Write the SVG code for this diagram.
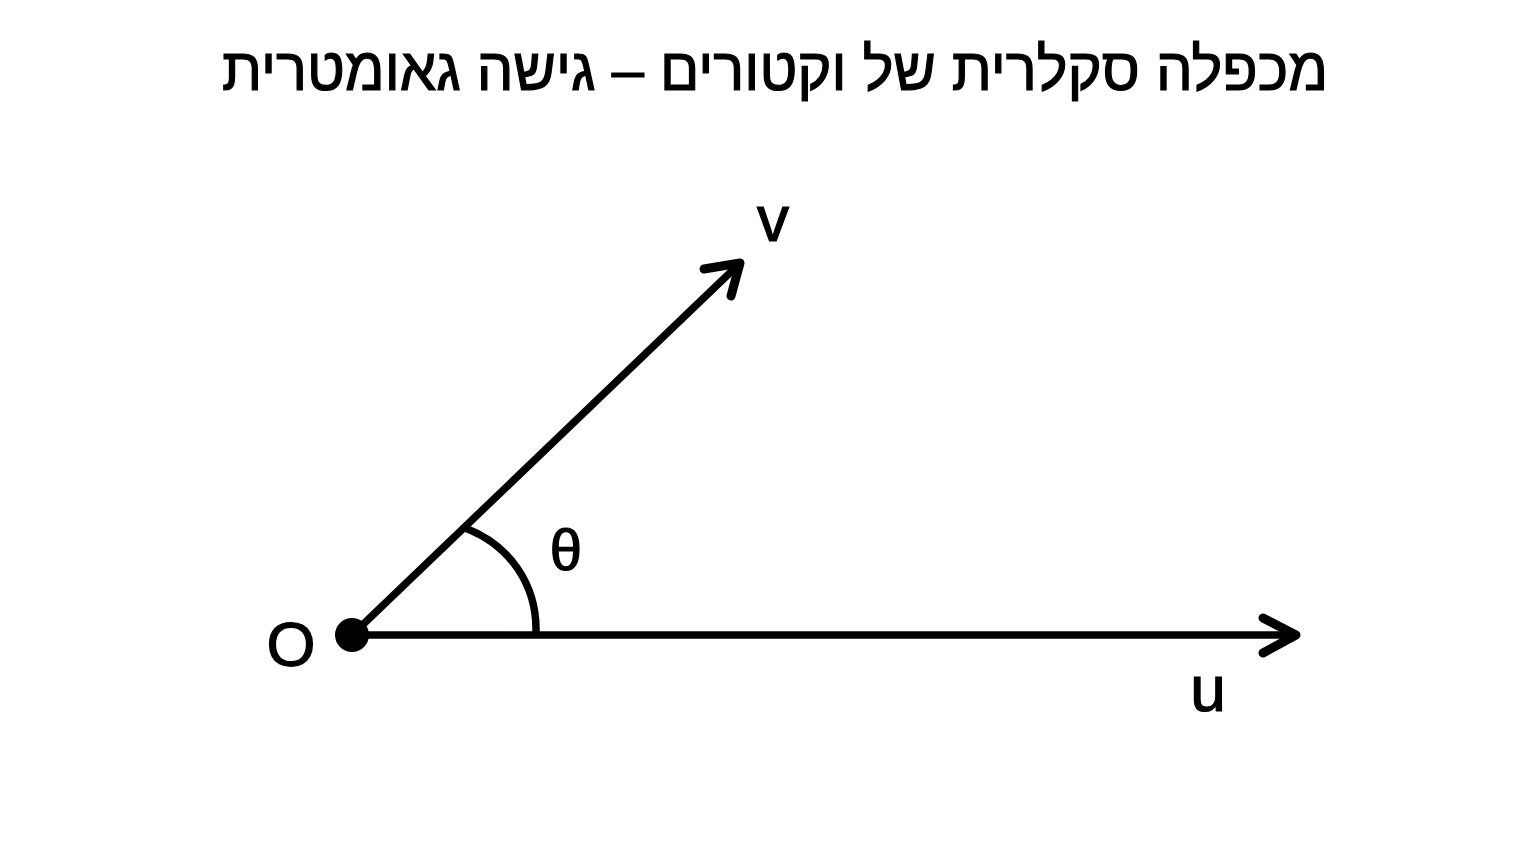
<svg xmlns="http://www.w3.org/2000/svg" width="1536" height="864" viewBox="0 0 1536 864">
<style>
.lbl{font-family:"Liberation Sans","DejaVu Sans",sans-serif;fill:#000;stroke:#000;stroke-width:1.2}
.ln{stroke:#000;stroke-width:7.5;fill:none;stroke-linecap:round;stroke-linejoin:round}
.hd{stroke:#000;stroke-width:9;fill:none;stroke-linecap:round;stroke-linejoin:round}
</style>
<rect width="1536" height="864" fill="#fff"/>
<text class="lbl" x="775" y="90" font-size="60" text-anchor="middle" direction="rtl" textLength="1106" lengthAdjust="spacingAndGlyphs">מכפלה סקלרית של וקטורים – גישה גאומטרית</text>
<g id="connectors">
<line class="ln" x1="352" y1="635" x2="1290" y2="635"/>
<polyline class="hd" points="1263,618 1296,635 1263,653"/>
<line class="ln" x1="352" y1="635" x2="736" y2="267"/>
<polyline class="hd" points="704,269 740,263 731,296"/>
<path class="ln" d="M465 528 C510 545 537 585 536 632"/>
</g>
<g id="origin">
<circle cx="352" cy="635" r="17" fill="#000"/>
<text class="lbl" x="291" y="666" font-size="63" text-anchor="middle">O</text>
</g>
<g id="v-label"><text class="lbl" x="773" y="241" font-size="64" text-anchor="middle" stroke-width="2">v</text></g>
<g id="u-label"><text class="lbl" x="1208" y="711" font-size="64" text-anchor="middle" stroke-width="2">u</text></g>
<g id="theta-label"><text class="lbl" x="566" y="570" font-size="58" text-anchor="middle">θ</text></g>
</svg>
